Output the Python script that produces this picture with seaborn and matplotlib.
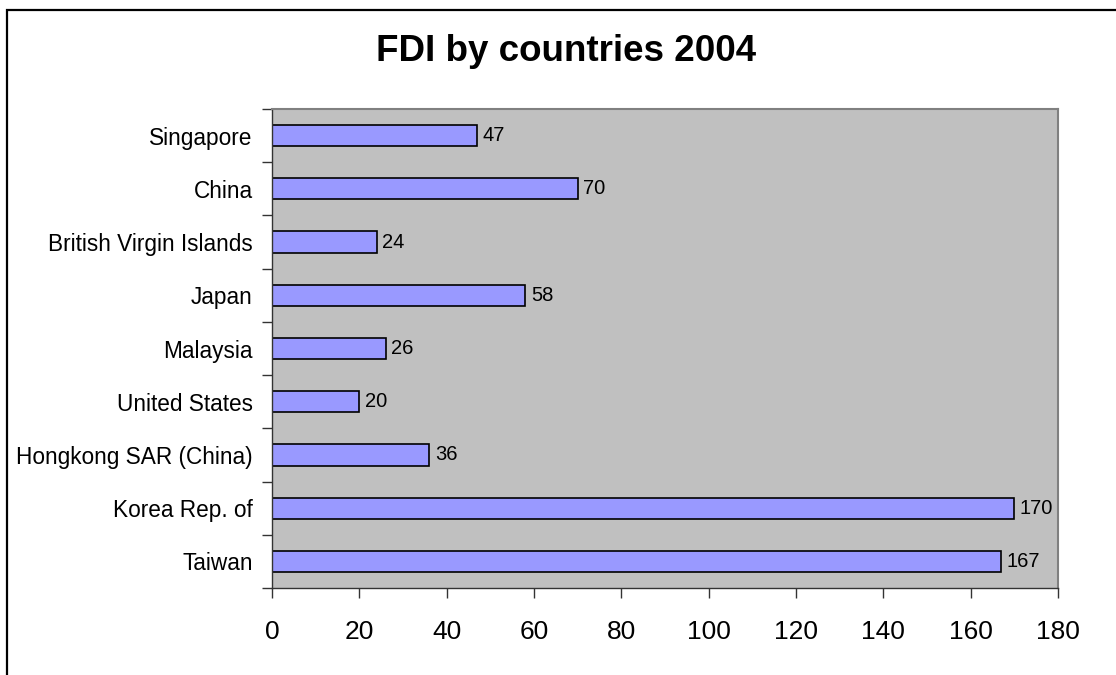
import numpy as np
import pandas as pd
import matplotlib
matplotlib.use("Agg")
import matplotlib.pyplot as plt
import matplotlib.patches as mpatches
import seaborn as sns

countries = ["Singapore", "China", "British Virgin Islands", "Japan", "Malaysia",
             "United States", "Hongkong SAR (China)", "Korea Rep. of", "Taiwan"]
fdi = [47, 70, 24, 58, 26, 20, 36, 170, 167]
xticks = [0, 20, 40, 60, 80, 100, 120, 140, 160, 180]


def makeChart():
    plt.rcParams['font.family'] = ['Liberation Sans', 'DejaVu Sans']
    df = pd.DataFrame({"Country": countries, "FDI": fdi})

    fig = plt.figure(figsize=(11.16, 6.75), dpi=100)
    ax = fig.add_axes([272/1116, 1 - 588/675, (1058-272)/1116, (588-109)/675])
    ax.set_facecolor("#C0C0C0")

    sns.barplot(data=df, x="FDI", y="Country", orient="h", color="#9999FF",
                saturation=1, width=0.4, edgecolor="black", linewidth=1.2, ax=ax)

    ax.set_xlim(0, 180)
    ax.set_ylim(8.5, -0.5)
    ax.set_xticks(xticks)
    ax.set_xlabel("")
    ax.set_ylabel("")

    # Excel style: ticks between categories, labels centred
    ax.set_yticks(np.arange(-0.5, len(countries)), minor=True)
    ax.tick_params(axis="y", which="major", length=0, pad=14, labelsize=16.3)
    ax.tick_params(axis="y", which="minor", length=7, width=1, color="#333333")
    ax.tick_params(axis="x", length=7, width=1, color="#333333", pad=16, labelsize=19)

    for side in ["top", "right"]:
        ax.spines[side].set_color("#808080")
        ax.spines[side].set_linewidth(1.5)
    for side in ["left", "bottom"]:
        ax.spines[side].set_color("#333333")
        ax.spines[side].set_linewidth(1)

    ax.bar_label(ax.containers[0], labels=[str(v) for v in fdi], padding=4, fontsize=14.5)

    fig.text(566/1116, 1 - 61/675, "FDI by countries 2004", ha="center", va="baseline",
             fontsize=26.5, fontweight="bold")

    # chart border
    fig.patches.append(mpatches.Rectangle((7/1116, -0.1), 1.2, 1.1 - 10/675,
                                          transform=fig.transFigure, fill=False,
                                          edgecolor="black", linewidth=1.6))

    fig.savefig("out.png", dpi=100)


if __name__ == "__main__":
    makeChart()
